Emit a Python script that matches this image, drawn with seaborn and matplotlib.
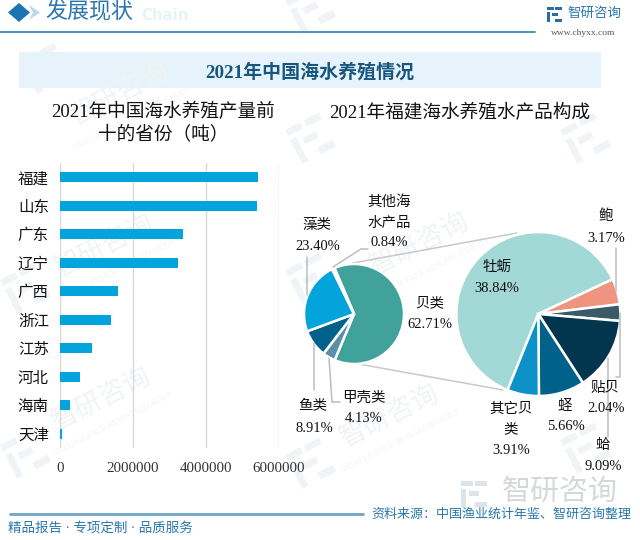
import matplotlib
matplotlib.use("Agg")
import matplotlib.pyplot as plt
from matplotlib.patches import Polygon, Rectangle
from matplotlib.transforms import Affine2D
import seaborn as sns
import pandas as pd

sns.set_theme(style="white")
plt.rcParams['font.family'] = ['Liberation Serif', 'Noto Sans CJK SC', 'DejaVu Sans']

provinces = ["福建", "山东", "广东", "辽宁", "广西", "浙江", "江苏", "河北", "海南", "天津"]
output_tons = [5450000, 5400000, 3380000, 3250000, 1590000, 1400000, 890000, 550000, 270000, 50000]
x_ticks = [0, 2000000, 4000000, 6000000]

main_values = [62.71, 4.13, 8.91, 23.40, 0.84]
main_colors = ["#40A29B", "#5A8FA8", "#00628A", "#03A4DC", "#A2D8D6"]
shell_values = [38.84, 3.17, 2.04, 9.09, 5.66, 3.91]
shell_colors = ["#A2D8D6", "#EF947E", "#3A5A68", "#03364E", "#00628A", "#0C92C9"]

W, H = 640, 540
fig = plt.figure(figsize=(W / 100, H / 100), dpi=100, facecolor="white")

def px_axes(left, top, right, bottom, **kw):
    return fig.add_axes([left / W, 1 - bottom / H, (right - left) / W, (bottom - top) / H], **kw)

def pt(px):
    return px * 0.72

bg = fig.add_axes([0, 0, 1, 1], zorder=0)
bg.set_xlim(0, W); bg.set_ylim(H, 0); bg.axis("off")

def logo(ax, x, y, s, color, rot=0):
    tr = Affine2D().rotate_deg_around(x, y, -rot) + ax.transData
    for rx, ry, rw, rh in [(0, 0, .45, .18), (0, .3, .18, .7), (.55, 0, .45, .18),
                           (.55, .8, .45, .2), (.3, .4, .4, .18)]:
        ax.add_patch(Rectangle((x + s * rx, y + s * ry), s * rw, s * rh, color=color, transform=tr, lw=0))

wm = "#F0F4F7"
for wx, wy in [(105, 247), (102, 400), (390, 417), (420, 245), (120, 95)]:
    bg.text(wx, wy, "智研咨询", fontsize=pt(27), color=wm, rotation=27, ha="center", va="center", rotation_mode="anchor")
    bg.text(wx + 12, wy + 24, "INTELLIGENCE RESEARCH GROUP", fontsize=pt(8), color=wm,
            rotation=27, ha="center", va="center", rotation_mode="anchor")
for lx, ly in [(0, 280), (0, 445), (285, 130), (285, 270), (285, 455), (560, 130), (560, 440), (285, 0), (20, 60)]:
    logo(bg, lx, ly, 38, wm, rot=27)

# header
bg.add_patch(Polygon([(8, 12.5), (19, 3), (30, 12.5), (19, 22)], color="#1B75B0", lw=0))
bg.add_patch(Polygon([(29, 5), (40, 12.5), (29, 20), (33, 12.5)], color="#BBD9EC", lw=0))
bg.text(89, 13, "发展现状", fontsize=pt(22), color="#2A78AE", ha="center", va="center", zorder=3, fontweight="medium")
bg.text(165, 16, "Chain", fontsize=pt(15), color="#E8F2F8", ha="center", va="center", fontweight="bold", zorder=2,
        family=["DejaVu Sans"])
bg.plot([0, 535], [32, 32], color="#2F7FB2", lw=1.2)
logo(bg, 547, 7, 15, "#2A6CA5")
bg.text(594, 13, "智研咨询", fontsize=pt(13.5), color="#2A78AE", ha="center", va="center")
bg.text(583, 33, "www.chyxx.com", fontsize=pt(9.5), color="#555555", ha="center", va="center")

# title band
bg.add_patch(Rectangle((19, 52), 582, 36, color="#E6F3FA", lw=0))
bg.text(310, 72, "2021年中国海水养殖情况", fontsize=pt(19), color="#17567F", ha="center", va="center", fontweight="bold")

# sub titles
sub = dict(fontsize=pt(18.7), color="#111111", ha="center", va="center", fontweight="medium")
bg.text(163, 112, "2021年中国海水养殖产量前", **sub)
bg.text(163, 134, "十的省份（吨）", **sub)
bg.text(460, 113, "2021年福建海水养殖水产品构成", **sub)

# footer
logo(bg, 461, 481, 26, "#DCE4EA")
bg.text(560, 493, "智研咨询", fontsize=pt(29), color="#D5D8DB", ha="center", va="center")
bg.plot([10, 363], [514, 514], color="#6FA5C6", lw=2)
bg.text(100, 529, "精品报告 · 专项定制 · 品质服务", fontsize=pt(13.5), color="#2A78AE", ha="center", va="center")
bg.text(501, 515, "资料来源：中国渔业统计年鉴、智研咨询整理", fontsize=pt(13), color="#2A78AE", ha="center", va="center")

# bars
ax = px_axes(60, 163, 278.5, 448, zorder=2)
df = pd.DataFrame({"省份": provinces, "产量": output_tons})
sns.barplot(data=df, x="产量", y="省份", color="#03A4DC", saturation=1, width=0.36,
            linewidth=0, edgecolor="none", ax=ax, zorder=3)
ax.set_xlim(0, 6000000)
ax.set_ylim(9.5, -0.5)
ax.set_xticks(x_ticks)
ax.set_xticklabels([str(v) for v in x_ticks])
ax.set_xlabel(""); ax.set_ylabel("")
ax.patch.set_visible(False)
ax.grid(axis="x", color="#D9D9D9", lw=1)
ax.grid(axis="y", visible=False)
ax.set_axisbelow(True)
sns.despine(ax=ax, left=True, bottom=True, top=True, right=True)
ax.tick_params(axis="x", length=0, pad=10, labelsize=pt(15), labelcolor="#333333")
ax.tick_params(axis="y", length=0, pad=13, labelsize=pt(15.5), labelcolor="#111111")
ax.tick_params(axis="y", pad=8)
for lab in ax.get_yticklabels():
    lab.set_fontweight("medium")

# connectors
bg.plot([353, 517], [263, 233], color="#C8C8C8", lw=1.1, zorder=4)
bg.plot([353, 503], [363, 390], color="#C8C8C8", lw=1.1, zorder=4)

# main pie
p1 = px_axes(354 - 50, 314 - 50, 354 + 50, 314 + 50, zorder=3)
p1.pie(main_values, colors=main_colors, startangle=113, counterclock=False,
       wedgeprops=dict(edgecolor="white", linewidth=1.8))
p1.set_xlim(-1, 1); p1.set_ylim(-1, 1)

# shell pie
p2 = px_axes(538.3 - 82, 314 - 82, 538.3 + 82, 314 + 82, zorder=3)
p2.pie(shell_values, colors=shell_colors, startangle=248, counterclock=False,
       wedgeprops=dict(edgecolor="white", linewidth=1.8))
p2.set_xlim(-1, 1); p2.set_ylim(-1, 1)

# overlay labels
fg = fig.add_axes([0, 0, 1, 1], zorder=5)
fg.set_xlim(0, W); fg.set_ylim(H, 0); fg.axis("off")
fg.patch.set_visible(False)

leaders = [
    ([333, 361, 368], [267, 249, 249]),
    ([307, 307], [257, 295]),
    ([314, 314], [343, 390]),
    ([329, 332, 340], [358, 402, 402]),
    ([616, 616], [248, 292]),
    ([619.5, 619.5, 616], [313, 377, 377]),
    ([607.5, 607.5], [358, 437]),
]
for xs, ys in leaders:
    fg.plot(xs, ys, color="#BDBDBD", lw=1.1)

labels = [
    (389, 202, "其他海"), (389, 223, "水产品"), (389, 243, "0.84%"),
    (317, 225, "藻类"), (318, 247, "23.40%"),
    (430, 304, "贝类"), (430, 325, "62.71%"),
    (364, 398, "甲壳类"), (364, 419, "4.13%"),
    (313, 407, "鱼类"), (314, 428, "8.91%"),
    (497, 267, "牡蛎"), (497, 288, "38.84%"),
    (606, 216, "鲍"), (606.5, 238, "3.17%"),
    (605, 388, "贴贝"), (606, 408, "2.04%"),
    (603, 446, "蛤"), (603, 466, "9.09%"),
    (565, 407, "蛏"), (566, 427, "5.66%"),
    (511, 409, "其它贝"), (511, 430, "类"), (511, 451, "3.91%"),
]
for x, y, s in labels:
    fg.text(x, y, s, fontsize=pt(14.5), color="#111111", ha="center", va="center", fontweight="medium")

fig.savefig("out.png", dpi=100)
